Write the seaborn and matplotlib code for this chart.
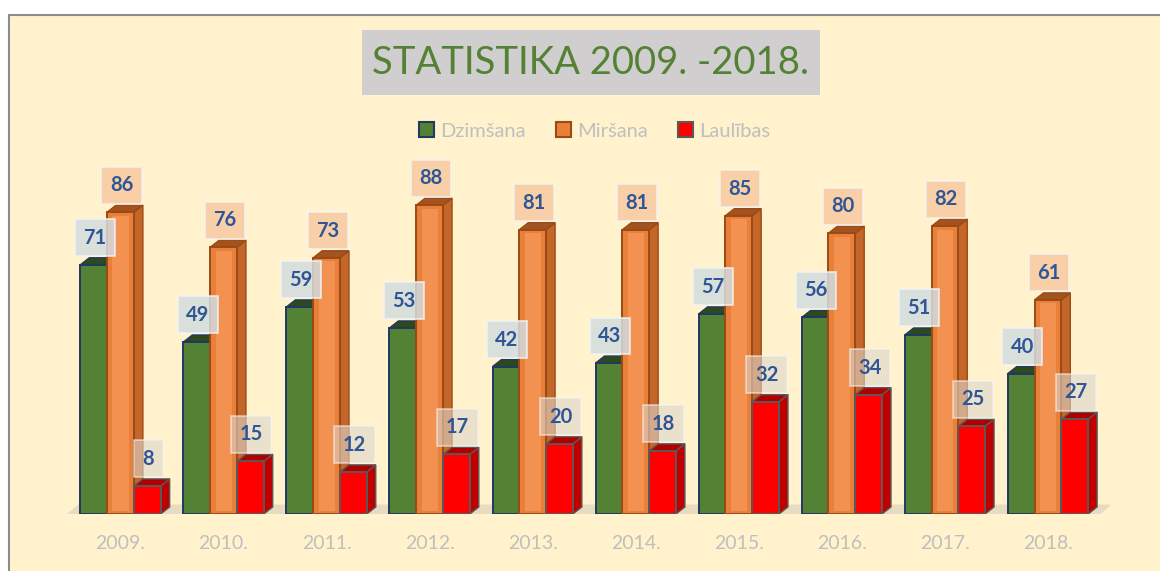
import pandas as pd
import matplotlib.pyplot as plt
import seaborn as sns
from matplotlib.patches import Polygon, Rectangle, Patch

# Data
years = ["2009.", "2010.", "2011.", "2012.", "2013.", "2014.", "2015.", "2016.", "2017.", "2018."]
dzimsana = [71, 49, 59, 53, 42, 43, 57, 56, 51, 40]
mirsana = [86, 76, 73, 88, 81, 81, 85, 80, 82, 61]
laulibas = [8, 15, 12, 17, 20, 18, 32, 34, 25, 27]
series_names = ["Dzimšana", "Miršana", "Laulības"]

# Styling per series
face_colors = ["#548235", "#E9803A", "#FF0000"]
edge_colors = ["#1F3864", "#9A4A15", "#595959"]
side_colors = ["#3E6327", "#C4662A", "#C00000"]
top_colors = ["#2E4A1D", "#A3531F", "#B00000"]
box_colors = ["#D3DDE0", "#F7C9A0", "#DDD6CC"]
box_alpha = [0.85, 0.85, 0.6]


def build_frame():
    rows = []
    for name, vals in zip(series_names, [dzimsana, mirsana, laulibas]):
        for y, v in zip(years, vals):
            rows.append({"year": y, "series": name, "value": v})
    return pd.DataFrame(rows)


def main():
    df = build_frame()
    sns.set_style("white")
    plt.rcParams["font.family"] = ["Lato", "DejaVu Sans"]

    fig = plt.figure(figsize=(11.6, 5.71), dpi=100)
    fig.patch.set_facecolor("white")

    # cream panel with grey border on top/left
    panel = Rectangle((9 / 1160, -0.05), 1.2, 1.05 - 15 / 571, transform=fig.transFigure,
                      facecolor="#FFF2CC", edgecolor="#8C8C8C", linewidth=1.5, zorder=-10)
    fig.patches.append(panel)

    ax = fig.add_axes([0.0506, 0.0998, 0.9061, 0.6147])
    ax.set_facecolor("none")

    sns.barplot(data=df, x="year", y="value", hue="series", palette=face_colors,
                width=0.78, saturation=1, legend=False, ax=ax)

    dx, dy = 0.087, 2.0
    # floor under the bars
    floor = Polygon([(-0.52, 0), (9.51, 0), (9.62, 2.7), (-0.41, 2.7)], closed=True,
                    facecolor="#E8DCC0", edgecolor="none", zorder=0.5)
    ax.add_patch(floor)

    for i, cont in enumerate(ax.containers):
        for bar in cont:
            x = bar.get_x()
            w = bar.get_width()
            h = bar.get_height()
            bar.set_facecolor(face_colors[i])
            bar.set_edgecolor(edge_colors[i])
            bar.set_linewidth(1.4)
            bar.set_zorder(2 + i)
            side = Polygon([(x + w, 0), (x + w + dx, dy), (x + w + dx, h + dy), (x + w, h)],
                           closed=True, facecolor=side_colors[i], edgecolor=edge_colors[i],
                           linewidth=1.0, zorder=1.5 + i)
            top = Polygon([(x, h), (x + dx, h + dy), (x + w + dx, h + dy), (x + w, h)],
                          closed=True, facecolor=top_colors[i], edgecolor=edge_colors[i],
                          linewidth=1.0, zorder=1.5 + i)
            ax.add_patch(side)
            ax.add_patch(top)
            if i == 1:
                # lighter bevel inside the orange bars
                inner = Rectangle((x + 0.2 * w, 1.0), 0.6 * w, h - 2.0, facecolor="#F29150",
                                  edgecolor="none", zorder=2 + i + 0.1)
                ax.add_patch(inner)
            ax.annotate(f"{int(h)}", (x + w / 2 + 0.01, h), xytext=(0, 19.5),
                        textcoords="offset points", ha="center", va="center",
                        fontsize=14.5, fontweight="bold", color="#2F5597", zorder=10,
                        bbox=dict(boxstyle="square,pad=0.42", facecolor=box_colors[i],
                                  alpha=box_alpha[i], edgecolor="#F4F4F4", linewidth=1.2))

    ax.set_xlim(-0.6, 9.6)
    ax.set_ylim(0, 100)
    ax.set_yticks([])
    ax.set_xlabel("")
    ax.set_ylabel("")
    ax.tick_params(axis="x", length=0, pad=15, labelsize=14, labelcolor="#BFBFBF")
    sns.despine(ax=ax, left=True, bottom=True)

    # title with grey box
    title_box = Rectangle((362 / 1160, 1 - 95 / 571), 458 / 1160, 65 / 571,
                          transform=fig.transFigure, facecolor="#D0CECE",
                          edgecolor="none", zorder=1)
    fig.patches.append(title_box)
    fig.text(590 / 1160, 1 - 63 / 571, "STATISTIKA 2009. -2018.", ha="center", va="center",
             fontsize=27.5, color="#548235", zorder=2)

    handles = [Patch(facecolor=face_colors[i], edgecolor=edge_colors[i], linewidth=1.5)
               for i in range(3)]
    leg = fig.legend(handles, series_names, loc="center", bbox_to_anchor=(595 / 1160, 1 - 131 / 571),
                     ncol=3, frameon=False, fontsize=14.5, handlelength=0.75, handleheight=0.75,
                     handletextpad=0.3, columnspacing=1.5)
    for t in leg.get_texts():
        t.set_color("#BFBFBF")

    fig.savefig("out.png", dpi=100, facecolor=fig.get_facecolor())


if __name__ == "__main__":
    main()
